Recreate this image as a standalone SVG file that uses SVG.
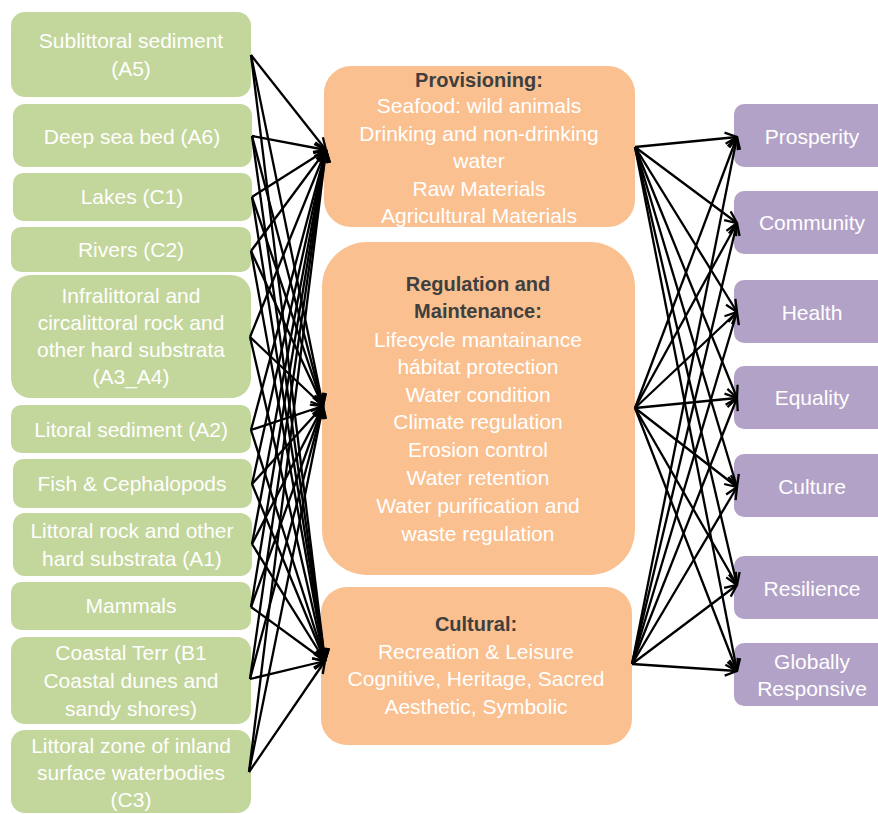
<svg xmlns="http://www.w3.org/2000/svg" width="878" height="814" viewBox="0 0 878 814">
<style>
.g{fill:#C3D69B}
.o{fill:#FAC090}
.p{fill:#B3A2C7}
text{font-family:"Liberation Sans",Arial,sans-serif;font-size:21px;fill:#FFFFFF;text-anchor:middle}
text.t{font-weight:bold;fill:#3F3F3F;font-size:20px}
#connectors line{stroke:#000;stroke-width:2.3;fill:none;marker-end:url(#ah)}
</style>
<defs>
<marker id="ah" viewBox="0 0 14 14" refX="13" refY="7" markerWidth="14" markerHeight="14" markerUnits="userSpaceOnUse" orient="auto">
<path d="M1,1.5 L13,7 L1,12.5" fill="none" stroke="#000" stroke-width="2.3"/>
</marker>
</defs>
<rect width="878" height="814" fill="#FFFFFF"/>

<g id="n_a5"><rect class="g" x="11" y="12" width="240" height="85" rx="14"/><text x="131" y="48">Sublittoral sediment</text><text x="131" y="76">(A5)</text></g>
<g id="n_a6"><rect class="g" x="13" y="104" width="239" height="63" rx="12"/><text x="132" y="144">Deep sea bed (A6)</text></g>
<g id="n_c1"><rect class="g" x="13" y="173" width="239" height="48" rx="10"/><text x="132" y="204">Lakes (C1)</text></g>
<g id="n_c2"><rect class="g" x="11" y="227" width="240" height="45" rx="10"/><text x="131" y="257">Rivers (C2)</text></g>
<g id="n_a3a4"><rect class="g" x="11" y="275" width="240" height="123" rx="20"/><text x="131" y="303">Infralittoral and</text><text x="131" y="330">circalittoral rock and</text><text x="131" y="357">other hard substrata</text><text x="131" y="384">(A3_A4)</text></g>
<g id="n_a2"><rect class="g" x="11" y="405" width="240" height="48" rx="10"/><text x="131" y="437">Litoral sediment (A2)</text></g>
<g id="n_fish"><rect class="g" x="13" y="459" width="239" height="49" rx="10"/><text x="132" y="491">Fish &amp; Cephalopods</text></g>
<g id="n_a1"><rect class="g" x="13" y="513" width="239" height="63" rx="12"/><text x="132" y="538">Littoral rock and other</text><text x="132" y="566">hard substrata (A1)</text></g>
<g id="n_mammals"><rect class="g" x="11" y="582" width="240" height="48" rx="10"/><text x="131" y="613">Mammals</text></g>
<g id="n_b1"><rect class="g" x="11" y="637" width="240" height="87" rx="14"/><text x="131" y="660">Coastal Terr (B1</text><text x="131" y="688">Coastal dunes and</text><text x="131" y="716">sandy shores)</text></g>
<g id="n_c3"><rect class="g" x="11" y="730" width="240" height="83" rx="14"/><text x="131" y="753">Littoral zone of inland</text><text x="131" y="780">surface waterbodies</text><text x="131" y="807">(C3)</text></g>

<g id="n_prov"><rect class="o" x="324" y="66" width="311" height="161" rx="27"/>
<text class="t" x="479" y="87">Provisioning:</text>
<text x="479" y="113">Seafood: wild animals</text>
<text x="479" y="141">Drinking and non-drinking</text>
<text x="479" y="168">water</text>
<text x="479" y="196">Raw Materials</text>
<text x="479" y="223">Agricultural Materials</text></g>

<g id="n_reg"><rect class="o" x="322" y="242" width="313" height="333" rx="45"/>
<text class="t" x="478" y="291">Regulation and</text>
<text class="t" x="478" y="318">Maintenance:</text>
<text x="478" y="347">Lifecycle mantainance</text>
<text x="478" y="374">hábitat protection</text>
<text x="478" y="402">Water condition</text>
<text x="478" y="429">Climate regulation</text>
<text x="478" y="457">Erosion control</text>
<text x="478" y="485">Water retention</text>
<text x="478" y="513">Water purification and</text>
<text x="478" y="541">waste regulation</text></g>

<g id="n_cult"><rect class="o" x="321" y="587" width="311" height="158" rx="26"/>
<text class="t" x="476" y="631">Cultural:</text>
<text x="476" y="659">Recreation &amp; Leisure</text>
<text x="476" y="686">Cognitive, Heritage, Sacred</text>
<text x="476" y="714">Aesthetic, Symbolic</text></g>

<g id="n_prosperity"><rect class="p" x="734" y="104" width="170" height="63" rx="10"/><text x="812" y="144">Prosperity</text></g>
<g id="n_community"><rect class="p" x="734" y="191" width="170" height="63" rx="10"/><text x="812" y="230">Community</text></g>
<g id="n_health"><rect class="p" x="734" y="280" width="170" height="63" rx="10"/><text x="812" y="320">Health</text></g>
<g id="n_equality"><rect class="p" x="734" y="366" width="170" height="63" rx="10"/><text x="812" y="405">Equality</text></g>
<g id="n_culture"><rect class="p" x="734" y="454" width="170" height="63" rx="10"/><text x="812" y="494">Culture</text></g>
<g id="n_resilience"><rect class="p" x="734" y="556" width="170" height="63" rx="10"/><text x="812" y="596">Resilience</text></g>
<g id="n_global"><rect class="p" x="734" y="643" width="170" height="63" rx="10"/><text x="812" y="669">Globally</text><text x="812" y="696">Responsive</text></g>

<g id="connectors">
<line x1="251" y1="55" x2="326" y2="150"/><line x1="251" y1="55" x2="323" y2="406"/><line x1="251" y1="55" x2="325" y2="661"/>
<line x1="252" y1="136" x2="326" y2="150"/><line x1="252" y1="136" x2="323" y2="406"/><line x1="252" y1="136" x2="325" y2="661"/>
<line x1="252" y1="197" x2="326" y2="150"/><line x1="252" y1="197" x2="323" y2="406"/><line x1="252" y1="197" x2="325" y2="661"/>
<line x1="251" y1="251" x2="326" y2="150"/><line x1="251" y1="251" x2="323" y2="406"/><line x1="251" y1="251" x2="325" y2="661"/>
<line x1="250" y1="337" x2="326" y2="150"/><line x1="250" y1="337" x2="323" y2="406"/><line x1="250" y1="337" x2="325" y2="661"/>
<line x1="251" y1="430" x2="326" y2="150"/><line x1="251" y1="430" x2="323" y2="406"/><line x1="251" y1="430" x2="325" y2="661"/>
<line x1="252" y1="484" x2="326" y2="150"/><line x1="252" y1="484" x2="323" y2="406"/><line x1="252" y1="484" x2="325" y2="661"/>
<line x1="252" y1="544" x2="326" y2="150"/><line x1="252" y1="544" x2="323" y2="406"/><line x1="252" y1="544" x2="325" y2="661"/>
<line x1="251" y1="607" x2="326" y2="150"/><line x1="251" y1="607" x2="323" y2="406"/><line x1="251" y1="607" x2="325" y2="661"/>
<line x1="250" y1="679" x2="326" y2="150"/><line x1="250" y1="679" x2="323" y2="406"/><line x1="250" y1="679" x2="325" y2="661"/>
<line x1="249" y1="772" x2="326" y2="150"/><line x1="249" y1="772" x2="323" y2="406"/><line x1="249" y1="772" x2="325" y2="661"/>

<line x1="635" y1="147" x2="737" y2="137"/><line x1="635" y1="147" x2="737" y2="223"/><line x1="635" y1="147" x2="737" y2="312"/><line x1="635" y1="147" x2="737" y2="398"/><line x1="635" y1="147" x2="737" y2="487"/><line x1="635" y1="147" x2="737" y2="585"/><line x1="635" y1="147" x2="737" y2="671"/>
<line x1="635" y1="408" x2="737" y2="137"/><line x1="635" y1="408" x2="737" y2="223"/><line x1="635" y1="408" x2="737" y2="312"/><line x1="635" y1="408" x2="737" y2="398"/><line x1="635" y1="408" x2="737" y2="487"/><line x1="635" y1="408" x2="737" y2="585"/><line x1="635" y1="408" x2="737" y2="671"/>
<line x1="632" y1="664" x2="737" y2="137"/><line x1="632" y1="664" x2="737" y2="223"/><line x1="632" y1="664" x2="737" y2="312"/><line x1="632" y1="664" x2="737" y2="398"/><line x1="632" y1="664" x2="737" y2="487"/><line x1="632" y1="664" x2="737" y2="585"/><line x1="632" y1="664" x2="737" y2="671"/>
</g>
</svg>
